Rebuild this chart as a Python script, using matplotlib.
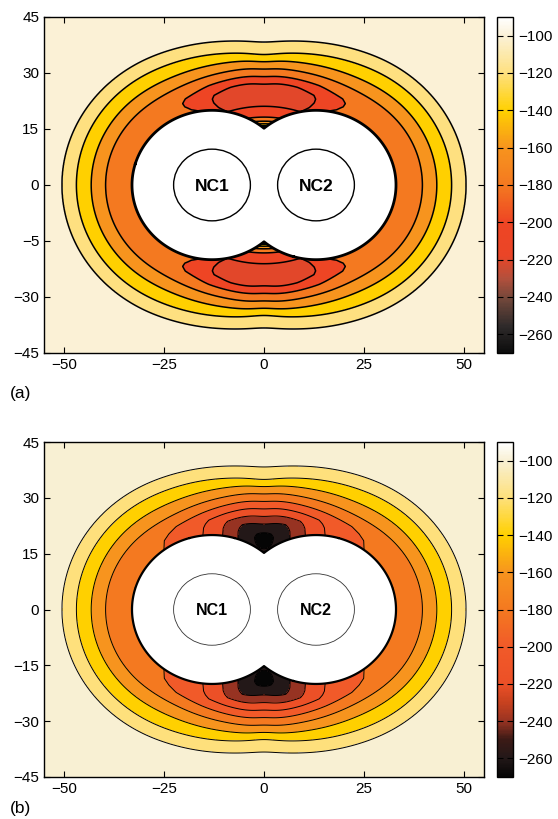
import numpy as np
import matplotlib
matplotlib.use("Agg")
import matplotlib.pyplot as plt
from matplotlib.colors import LinearSegmentedColormap, Normalize
from matplotlib.cm import ScalarMappable
from matplotlib.patches import Circle

plt.rcParams["font.family"] = ["Liberation Sans", "DejaVu Sans"]

# nanocrystal geometry (nm)
nc_x = [-13.0, 13.0]
nc_names = ["NC1", "NC2"]
nc_radius = 9.6
excl_radius = 20.0

# energy vs distance from NC centre
profile_r = [20.0, 20.8, 22.0, 23.0, 24.0, 26.6, 30.2, 33.9, 37.5, 42.0, 90.0]
profile_a = [-74.0, -78.0, -81.0, -82.0, -81.0, -70.0, -50.0, -30.0, -10.0, 0.0, 0.0]
profile_b = [-87.5, -87.5, -87.5, -86.5, -84.5, -70.0, -50.0, -30.0, -10.0, 0.0, 0.0]
# extra binding in the gap between the NCs: strength and lateral width
gap_r = [20.0, 26.0, 32.0, 40.0]
gap_peak = [1.0, 1.0, 1.0, 1.0]
gap_width = [10.6, 10.0, 8.5, 7.0]
gap_cut = 22.0
base_level = -90.0
floor_a, floor_b = -205.0, -400.0
neck_a, neck_b = 120.0, 10.0
neck_width_a, neck_width_b = 3.0, 2.5

levels = [-260, -240, -220, -200, -180, -160, -140, -120, -100]
cbar_ticks = [-260, -240, -220, -200, -180, -160, -140, -120, -100]
x_ticks = [-50, -25, 0, 25, 50]
x_labels = ["\u221250", "\u221225", "0", "25", "50"]
y_ticks = [-45, -30, -15, 0, 15, 30, 45]
y_labels_a = ["\u221245", "\u221230", "\u22125", "0", "15", "30", "45"]
y_labels_b = ["\u221245", "\u221230", "\u221215", "0", "15", "30", "45"]

# colour maps (value, colour)
cmap_a_pts = [(-270, "#0c0c0c"), (-256, "#2e2a2a"), (-242, "#6e463a"), (-230, "#b4503c"),
              (-218, "#ea4527"), (-200, "#ee4524"), (-180, "#f47920"), (-160, "#f7941e"),
              (-140, "#ffd000"), (-120, "#fee07e"), (-100, "#fbf1d6"), (-90, "#ffffff")]
cmap_b_pts = [(-270, "#050505"), (-260, "#231818"), (-250, "#3c1a16"), (-240, "#9a3422"),
              (-230, "#c8421f"), (-220, "#ec5027"), (-200, "#f15a29"), (-180, "#f47920"),
              (-160, "#f7941e"), (-140, "#ffd000"), (-120, "#fee07a"), (-100, "#f8f0d2"),
              (-90, "#ffffff")]
vmin, vmax = -270, -90


def make_cmap(pts, name):
    return LinearSegmentedColormap.from_list(
        name, [((v - vmin) / (vmax - vmin), c) for v, c in pts])


x = np.linspace(-55, 55, 1101)
y = np.linspace(-45, 45, 901)
X, Y = np.meshgrid(x, y)
r1 = np.hypot(X - nc_x[0], Y)
r2 = np.hypot(X - nc_x[1], Y)
rmin = np.minimum(r1, r2)
# smooth minimum, avoids a kink on the x = 0 line
k = 1.0
rs = rmin - k * np.log1p(np.exp(-np.abs(r1 - r2) / k))


def field(profile, floor, neck, neck_width):
    u = np.interp(rs, profile_r, profile)
    peak = np.interp(rs, gap_r, gap_peak)
    c = np.interp(rs, gap_r, gap_width)
    g = peak / (1.0 + (X / c) ** 2) * np.exp(-(X / gap_cut) ** 4)
    v = base_level + u * (1.0 + g)
    v = np.maximum(v, floor)
    v = v + neck * np.exp(-(r1 + r2 - 2 * excl_radius) / neck_width)
    return np.ma.masked_where(rmin < excl_radius, v)


fig = plt.figure(figsize=(5.58, 8.19), dpi=100)
W, H = 558.0, 819.0

panels = [
    ("(a)", 17, 353, field(profile_a, floor_a, neck_a, neck_width_a), make_cmap(cmap_a_pts, "ca"),
     y_labels_a, 1.1, 2.0, 1.0, "#000000", 12.5, 393),
    ("(b)", 442, 777, field(profile_b, floor_b, neck_b, neck_width_b), make_cmap(cmap_b_pts, "cb"),
     y_labels_b, 0.7, 1.6, 0.6, "#333333", 11.5, 809),
]

norm = Normalize(vmin, vmax)
for tag, top, bot, V, cmap, ylabels, lw, blw, nclw, ncc, ncfs, tag_y in panels:
    ax = fig.add_axes([44 / W, 1 - bot / H, 440 / W, (bot - top) / H])
    cax = fig.add_axes([497 / W, 1 - bot / H, 16 / W, (bot - top) / H])

    edges = [-2000] + levels + [2000]
    band_colors = [cmap(norm(max(e, vmin))) for e in edges[:-1]]
    ax.contourf(X, Y, V, levels=edges, colors=band_colors)
    ax.contour(X, Y, V, levels=levels, colors="k", linewidths=lw, linestyles="solid")
    ax.contour(X, Y, rmin, levels=[excl_radius], colors="k", linewidths=blw, linestyles="solid")
    for cx, name in zip(nc_x, nc_names):
        ax.add_patch(Circle((cx, 0), nc_radius, facecolor="white", edgecolor=ncc, lw=nclw, zorder=3))
        ax.text(cx, -0.3, name, ha="center", va="center", fontsize=ncfs, fontweight="bold", zorder=4)

    ax.set_xlim(-55, 55)
    ax.set_ylim(-45, 45)
    ax.set_xticks(x_ticks)
    ax.set_xticklabels(x_labels)
    ax.set_yticks(y_ticks)
    ax.set_yticklabels(ylabels)
    ax.tick_params(direction="in", top=True, right=True, length=4, labelsize=11, width=0.8)
    for s in ax.spines.values():
        s.set_linewidth(1.0)

    cb = fig.colorbar(ScalarMappable(norm=norm, cmap=cmap), cax=cax)
    cb.set_ticks(cbar_ticks)
    cb.set_ticklabels(["\u2212%d" % abs(t) for t in cbar_ticks])
    cax.tick_params(direction="in", left=True, right=True, length=4, labelsize=11, width=0.8)
    cb.outline.set_linewidth(1.0)

    fig.text(10 / W, 1 - tag_y / H, tag, fontsize=12.5, ha="left", va="center")

fig.savefig("out.png", dpi=100)
